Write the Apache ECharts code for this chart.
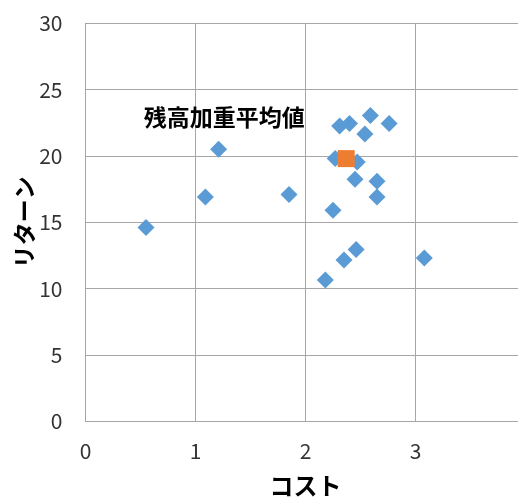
<!DOCTYPE html>
<html>
<head>
<meta charset="utf-8">
<script src="https://cdn.jsdelivr.net/npm/echarts@6/dist/echarts.min.js"></script>
<style>
  html, body { margin: 0; padding: 0; background: #fff; }
  #chart { width: 518px; height: 499px; }
</style>
</head>
<body>
<div id="chart"></div>
<script>
// Individual funds: cost (x) and return (y)
const fundCost = [0.55, 1.09, 1.21, 1.85, 2.31, 2.40, 2.59, 2.76, 2.54, 2.27, 2.47, 2.45, 2.65, 2.65, 2.25, 2.46, 2.35, 2.18, 3.08];
const fundReturn = [14.6, 16.9, 20.5, 17.1, 22.25, 22.45, 23.05, 22.45, 21.65, 19.8, 19.55, 18.25, 18.1, 16.9, 15.9, 12.95, 12.15, 10.65, 12.3];

// Balance-weighted average
const avgCost = [2.37];
const avgReturn = [19.8];
const avgLabel = '残高加重平均値';

const xTicks = { min: 0, max: 4, interval: 1 };
const yTicks = { min: 0, max: 30, interval: 5 };

const font = '"Noto Sans CJK JP", "Noto Sans", sans-serif';
const gridColor = '#a6a6a6';

const fundPoints = fundCost.map((c, i) => [c, fundReturn[i]]);
const avgPoints = avgCost.map((c, i) => [c, avgReturn[i]]);

const chart = echarts.init(document.getElementById('chart'), null, { renderer: 'canvas' });
chart.setOption({
  animation: false,
  backgroundColor: '#ffffff',
  grid: {
    left: 85.5, top: 23.3, width: 440, height: 398,
    containLabel: false,
    outerBoundsMode: 'none'
  },
  xAxis: {
    type: 'value',
    min: xTicks.min, max: xTicks.max, interval: xTicks.interval,
    name: 'コスト',
    nameLocation: 'middle',
    nameGap: 53,
    nameMoveOverlap: false,
    nameTextStyle: { fontFamily: font, fontSize: 24, fontWeight: 'bold', color: '#000' },
    axisLine: { show: true, lineStyle: { color: gridColor, width: 1 } },
    axisTick: { show: false },
    axisLabel: { fontFamily: font, fontSize: 21, color: '#333', margin: 19, showMaxLabel: false },
    splitLine: { show: true, lineStyle: { color: gridColor, width: 1 } }
  },
  yAxis: {
    type: 'value',
    min: yTicks.min, max: yTicks.max, interval: yTicks.interval,
    name: 'リターン',
    nameLocation: 'middle',
    nameGap: 50,
    nameMoveOverlap: false,
    nameRotate: 90,
    nameTextStyle: { fontFamily: font, fontSize: 23, fontWeight: 'bold', color: '#000' },
    axisLine: { show: true, lineStyle: { color: gridColor, width: 1 } },
    axisTick: { show: false },
    axisLabel: { fontFamily: font, fontSize: 21, color: '#333', margin: 23 },
    splitLine: { show: true, lineStyle: { color: gridColor, width: 1 } }
  },
  series: [
    {
      type: 'scatter',
      data: fundPoints,
      symbol: 'diamond',
      symbolSize: 17,
      itemStyle: { color: '#5b9bd5', opacity: 1 }
    },
    {
      type: 'scatter',
      data: avgPoints,
      symbol: 'rect',
      symbolSize: 17,
      itemStyle: { color: '#ed7d31', opacity: 1 },
      z: 3,
      label: {
        show: true,
        position: 'inside',
        offset: [-122, -41],
        formatter: avgLabel,
        fontFamily: font,
        fontSize: 23,
        fontWeight: 'bold',
        color: '#000',
        opacity: 1
      }
    }
  ]
});
</script>
</body>
</html>
